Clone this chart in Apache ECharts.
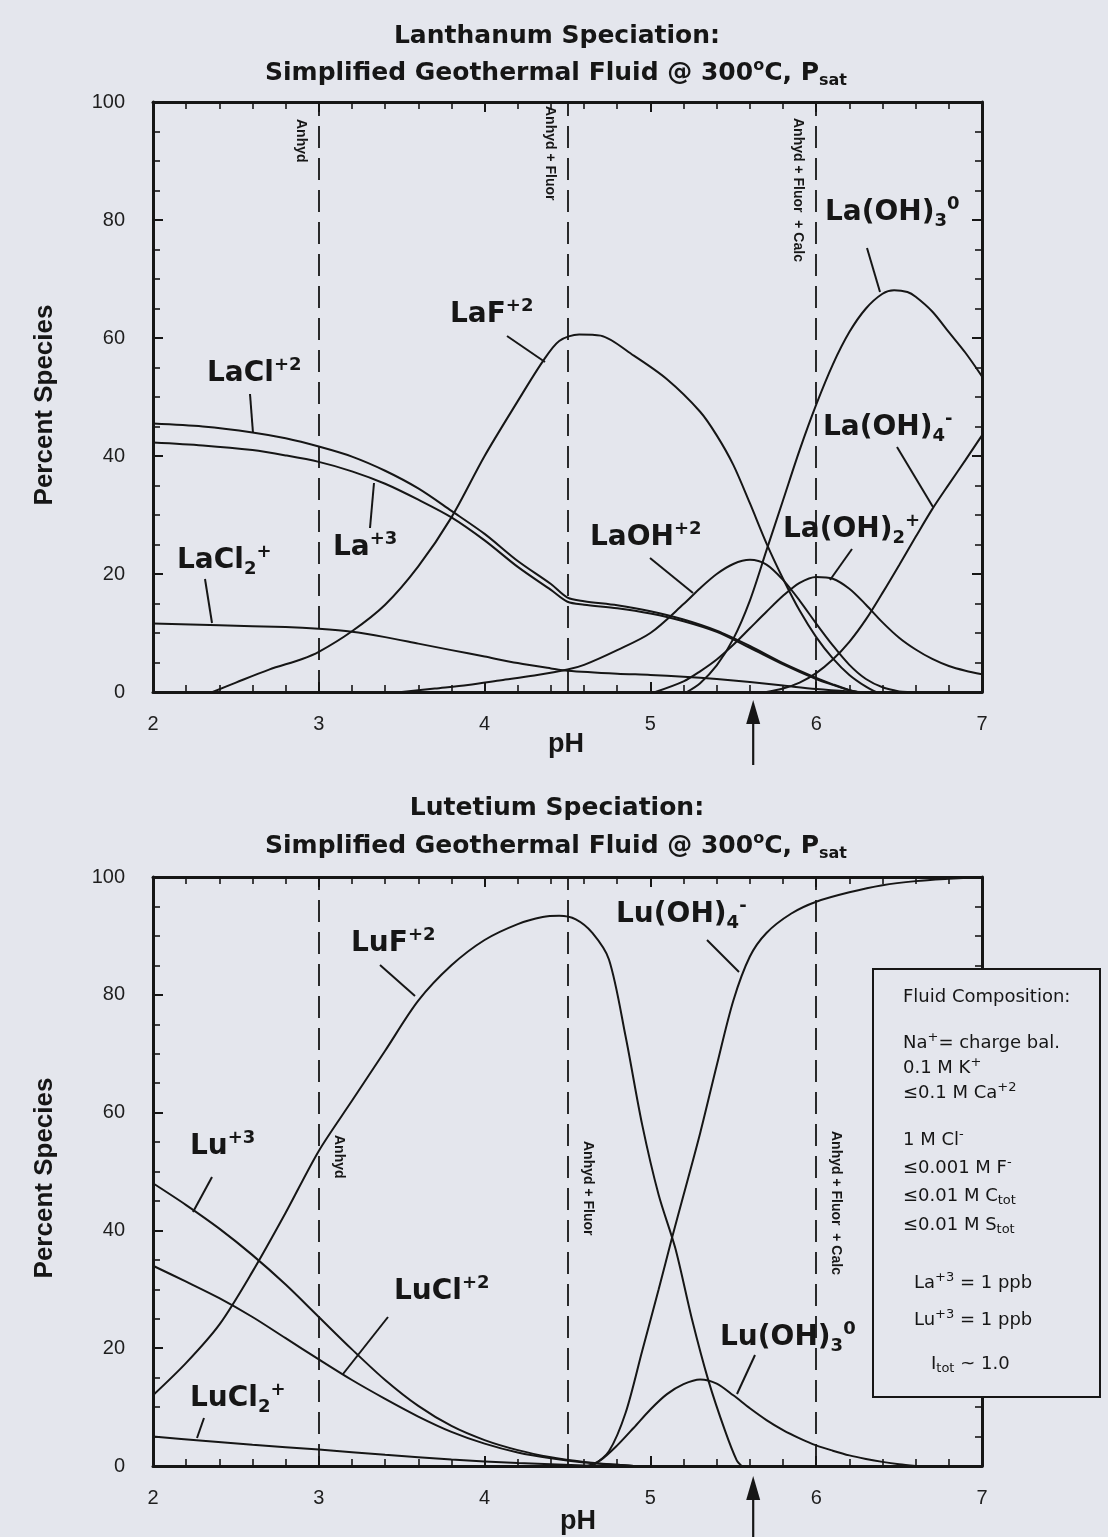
<!DOCTYPE html>
<html><head><meta charset="utf-8">
<script src="https://cdn.jsdelivr.net/npm/echarts/dist/echarts.min.js"></script>
<style>html,body{margin:0;padding:0;background:#e4e6ed}#c{width:1108px;height:1537px}</style>
</head><body><div id="c"></div>
<script>
// ---------------- data ----------------
const pHTickLabels = [2, 3, 4, 5, 6, 7];
const pctTickLabels = [0, 20, 40, 60, 80, 100];
const phaseBoundaries = [3.0, 4.5, 6.0];
const phaseLabels = ['Anhyd', 'Anhyd + Fluor', 'Anhyd + Fluor  + Calc'];
const arrowPH = 5.62;

// Lanthanum speciation  [pH, percent]
const La_LaCl = [[2.0,45.5],[2.3,45.0],[2.6,44.0],[2.8,43.0],[3.0,41.6],[3.2,39.9],[3.4,37.5],[3.6,34.5],[3.8,30.7],[4.0,26.8],[4.2,22.2],[4.4,18.3],[4.5,16.0],[4.6,15.4],[4.8,14.7],[5.0,13.7],[5.2,12.3],[5.4,10.4],[5.6,7.8],[5.8,4.9],[6.0,2.4],[6.1,1.3],[6.2,0.3],[6.25,0]];
const La_La3 = [[2.0,42.3],[2.3,41.8],[2.6,41.0],[2.8,40.1],[3.0,39.0],[3.2,37.4],[3.4,35.3],[3.6,32.6],[3.8,29.6],[4.0,25.7],[4.2,21.2],[4.4,17.3],[4.5,15.3],[4.6,14.8],[4.8,14.2],[5.0,13.3],[5.2,12.0],[5.4,10.2],[5.6,7.5],[5.8,4.7],[6.0,2.2],[6.1,1.2],[6.2,0.3],[6.25,0]];
const La_LaCl2 = [[2.0,11.6],[2.4,11.3],[2.8,11.0],[3.0,10.7],[3.2,10.2],[3.4,9.3],[3.6,8.2],[3.8,7.1],[4.0,6.0],[4.2,4.9],[4.4,4.0],[4.5,3.6],[4.8,3.1],[5.0,2.9],[5.2,2.6],[5.4,2.2],[5.6,1.7],[5.8,1.1],[6.0,0.5],[6.2,0.1],[6.3,0]];
const La_LaF = [[2.36,0],[2.5,1.6],[2.7,3.8],[2.9,5.6],[3.0,6.8],[3.2,10.3],[3.4,14.8],[3.6,21.3],[3.8,29.6],[4.0,40.0],[4.2,49.3],[4.35,56.0],[4.45,59.5],[4.57,60.6],[4.7,60.4],[4.9,57.0],[5.1,53.0],[5.3,47.5],[5.4,43.5],[5.5,38.5],[5.6,32.0],[5.7,25.2],[5.8,19.2],[5.9,13.8],[6.0,9.3],[6.1,5.7],[6.2,2.9],[6.3,0.9],[6.36,0]];
const La_LaOH = [[3.5,0],[3.7,0.6],[3.9,1.2],[4.1,2.0],[4.3,2.8],[4.5,3.8],[4.6,4.6],[4.8,7.1],[5.0,10.0],[5.2,14.9],[5.3,17.6],[5.4,20.0],[5.5,21.7],[5.6,22.4],[5.7,21.6],[5.8,19.0],[5.9,15.5],[6.0,11.6],[6.1,7.9],[6.2,4.6],[6.3,2.2],[6.4,0.8],[6.5,0.1],[6.55,0]];
const La_LaOH2 = [[5.03,0],[5.2,1.8],[5.3,3.5],[5.4,5.5],[5.5,8.0],[5.6,10.8],[5.7,13.6],[5.8,16.3],[5.9,18.5],[6.0,19.5],[6.1,19.2],[6.2,17.5],[6.3,14.8],[6.4,11.8],[6.5,9.2],[6.6,7.2],[6.7,5.6],[6.8,4.4],[6.9,3.6],[7.0,3.0]];
const La_LaOH3 = [[5.22,0],[5.3,1.5],[5.4,4.5],[5.5,9.0],[5.6,15.5],[5.7,24.0],[5.8,32.5],[5.9,41.0],[6.0,48.7],[6.1,55.5],[6.2,61.0],[6.3,65.0],[6.4,67.5],[6.47,68.1],[6.55,67.8],[6.6,67.0],[6.7,64.5],[6.8,61.0],[6.9,57.5],[7.0,53.5]];
const La_LaOH4 = [[5.7,0],[5.8,0.6],[5.9,1.6],[6.0,3.2],[6.1,5.5],[6.2,8.5],[6.3,12.3],[6.4,16.8],[6.5,21.5],[6.6,26.3],[6.7,31.0],[6.8,35.2],[6.9,39.3],[7.0,43.5]];

// Lutetium speciation  [pH, percent]
const Lu_LuF = [[2.0,12.0],[2.2,17.5],[2.4,24.0],[2.6,33.0],[2.8,43.0],[3.0,53.5],[3.2,62.0],[3.4,70.5],[3.6,79.0],[3.8,85.0],[4.0,89.3],[4.2,92.0],[4.35,93.2],[4.45,93.4],[4.55,92.8],[4.65,90.5],[4.75,86.0],[4.85,73.0],[4.95,58.0],[5.05,46.0],[5.15,37.0],[5.25,25.0],[5.35,14.5],[5.45,6.0],[5.52,1.0],[5.55,0]];
const Lu_LuOH4 = [[4.65,0],[4.75,2.5],[4.85,9.0],[4.95,19.5],[5.05,30.0],[5.13,38.7],[5.2,46.0],[5.3,56.5],[5.4,68.0],[5.5,79.0],[5.6,86.5],[5.7,90.5],[5.85,93.8],[6.0,95.8],[6.2,97.4],[6.4,98.6],[6.6,99.3],[6.8,99.7],[7.0,100]];
const Lu_LuOH3 = [[4.62,0],[4.7,1.0],[4.8,3.5],[4.9,6.5],[5.0,9.6],[5.1,12.2],[5.2,13.9],[5.3,14.7],[5.4,14.0],[5.5,12.0],[5.6,9.8],[5.7,7.8],[5.8,6.1],[5.9,4.7],[6.0,3.5],[6.1,2.6],[6.2,1.8],[6.3,1.2],[6.4,0.7],[6.5,0.3],[6.6,0]];
const Lu_Lu3 = [[2.0,48.0],[2.2,44.3],[2.4,40.3],[2.6,35.8],[2.8,30.8],[3.0,25.3],[3.2,19.8],[3.4,14.6],[3.6,10.2],[3.8,6.8],[4.0,4.4],[4.2,2.7],[4.4,1.5],[4.6,0.7],[4.8,0.2],[4.9,0]];
const Lu_LuCl = [[2.0,34.0],[2.2,31.3],[2.4,28.5],[2.6,25.3],[2.8,21.7],[3.0,18.1],[3.2,14.6],[3.4,11.4],[3.6,8.4],[3.8,5.8],[4.0,3.8],[4.2,2.3],[4.4,1.3],[4.6,0.6],[4.8,0.2],[4.9,0]];
const Lu_LuCl2 = [[2.0,5.0],[2.3,4.3],[2.6,3.6],[3.0,2.8],[3.4,1.9],[3.8,1.1],[4.2,0.5],[4.6,0.1],[4.8,0]];

// ---------------- chart ----------------
const INK = '#161616';
const BG = '#e4e6ed';
const FONT = '"Liberation Sans", Arial, Helvetica, sans-serif';
const WIDE = '"DejaVu Sans", Verdana, sans-serif';
const GRIDS = [{left:153, top:102, width:829, height:590}, {left:153, top:877, width:829, height:589}];

const chart = echarts.init(document.getElementById('c'), null, {renderer:'canvas'});

function xAx(g, pos, showLabels) {
  return {type:'value', gridIndex:g, position:pos, min:pHTickLabels[0], max:pHTickLabels[pHTickLabels.length-1], interval:1,
    axisLine:{show:true, onZero:false, lineStyle:{color:INK, width:3}},
    axisTick:{show:true, inside:true, length:10, lineStyle:{color:INK, width:2}},
    minorTick:{show:true, splitNumber:5, length:7, lineStyle:{color:INK, width:1.6}},
    axisLabel:{show:showLabels, margin:22, fontSize:20, color:'#1e1e1e', fontFamily:FONT},
    splitLine:{show:false}, minorSplitLine:{show:false}};
}
function yAx(g, pos, showLabels) {
  return {type:'value', gridIndex:g, position:pos, min:pctTickLabels[0], max:pctTickLabels[pctTickLabels.length-1], interval:20,
    axisLine:{show:true, onZero:false, lineStyle:{color:INK, width:3}},
    axisTick:{show:true, inside:true, length:10, lineStyle:{color:INK, width:2}},
    minorTick:{show:true, splitNumber:4, length:7, lineStyle:{color:INK, width:1.6}},
    axisLabel:{show:showLabels, margin:28, fontSize:20, color:'#1e1e1e', fontFamily:FONT},
    splitLine:{show:false}, minorSplitLine:{show:false}};
}

function curve(data, g) {
  return {type:'line', xAxisIndex:g*2, yAxisIndex:g*2, data:data, showSymbol:false, symbol:'none',
    smooth:0.3, lineStyle:{color:INK, width:2}, silent:true, animation:false, z:3};
}
function boundaries(g) {
  return {type:'line', xAxisIndex:g*2, yAxisIndex:g*2, data:[], silent:true, animation:false,
    markLine:{symbol:'none', silent:true, animation:false, label:{show:false},
      lineStyle:{color:INK, width:1.8, type:[22,10]},
      data: phaseBoundaries.map(v => ({xAxis:v}))}};
}

const laCurves = [La_LaCl, La_La3, La_LaCl2, La_LaF, La_LaOH, La_LaOH2, La_LaOH3, La_LaOH4];
const luCurves = [Lu_LuF, Lu_LuOH4, Lu_LuOH3, Lu_Lu3, Lu_LuCl, Lu_LuCl2];

const series = [boundaries(0), boundaries(1)]
  .concat(laCurves.map(d => curve(d, 0)))
  .concat(luCurves.map(d => curve(d, 1)));

chart.setOption({
  backgroundColor: BG,
  animation:false,
  grid: GRIDS.map(g => Object.assign({containLabel:false, outerBoundsMode:'none', show:false}, g)),
  xAxis: [xAx(0,'bottom',true), xAx(0,'top',false), xAx(1,'bottom',true), xAx(1,'top',false)],
  yAxis: [yAx(0,'left',true), yAx(0,'right',false), yAx(1,'left',true), yAx(1,'right',false)],
  series: series
});

// ---------------- annotations ----------------
function richSet(size, weight, family, supScale) {
  const s = Math.round(size*(supScale||0.64));
  return {
    n:{fontSize:size, fontFamily:family, fontWeight:weight, fill:INK, lineHeight:Math.round(size*1.25)},
    sup:{fontSize:s, fontFamily:family, fontWeight:weight, fill:INK, lineHeight:s, verticalAlign:'top'},
    sub:{fontSize:s, fontFamily:family, fontWeight:weight, fill:INK, lineHeight:s, verticalAlign:'bottom'}
  };
}
function rtext(str, x, y, size, weight, align, family, extra, supScale) {
  return Object.assign({type:'text', x:x, y:y, z:100, silent:true,
    style:{text:str, rich:richSet(size, weight, family||FONT, supScale), textAlign:align||'left', textVerticalAlign:'middle', fill:INK}}, extra||{});
}
function seg(x1,y1,x2,y2,w) {
  return {type:'line', z:100, silent:true, shape:{x1:x1,y1:y1,x2:x2,y2:y2}, style:{stroke:INK, lineWidth:w||2}};
}

const speciesLabels = [
  // top (La)
  {t:'{n|LaCl}{sup|+2}', x:207, y:374, p:[250,394,253,433]},
  {t:'{n|La}{sup|+3}', x:333, y:548, p:[370,528,374,483]},
  {t:'{n|LaCl}{sub|2}{sup|+}', x:177, y:561, p:[205,579,212,623]},
  {t:'{n|LaF}{sup|+2}', x:450, y:315, p:[507,336,545,362]},
  {t:'{n|LaOH}{sup|+2}', x:590, y:538, p:[650,558,693,593]},
  {t:'{n|La(OH)}{sub|2}{sup|+}', x:783, y:530, p:[852,549,830,580]},
  {t:'{n|La(OH)}{sub|4}{sup|-}', x:823, y:428, p:[897,447,933,507]},
  {t:'{n|La(OH)}{sub|3}{sup|0}', x:825, y:213, p:[867,248,880,292]},
  // bottom (Lu)
  {t:'{n|LuF}{sup|+2}', x:351, y:944, p:[380,965,415,996]},
  {t:'{n|Lu(OH)}{sub|4}{sup|-}', x:616, y:915, p:[707,940,739,972]},
  {t:'{n|Lu}{sup|+3}', x:190, y:1147, p:[212,1177,193,1212]},
  {t:'{n|LuCl}{sup|+2}', x:394, y:1292, p:[388,1317,343,1374]},
  {t:'{n|LuCl}{sub|2}{sup|+}', x:190, y:1399, p:[204,1418,197,1438]},
  {t:'{n|Lu(OH)}{sub|3}{sup|0}', x:720, y:1338, p:[755,1355,737,1394]}
];

const gfx = [];
// titles
[[36,'{n|Lanthanum Speciation:}'],[808,'{n|Lutetium Speciation:}']].forEach(([y,t]) => gfx.push(rtext(t, 557, y, 25, 'bold', 'center', WIDE)));
[73, 846].forEach(y => gfx.push(rtext('{n|Simplified Geothermal Fluid @ 300}{sup|o}{n|C, P}{sub|sat}', 556, y, 25, 'bold', 'center', WIDE)));
// axis titles
[405, 1178].forEach(y => gfx.push(rtext('{n|Percent Species}', 45, y, 26, 'bold', 'center', FONT, {rotation:Math.PI/2})));
gfx.push(rtext('{n|pH}', 566, 745, 27, 'bold', 'center'));
gfx.push(rtext('{n|pH}', 578, 1522, 27, 'bold', 'center'));
// species labels
speciesLabels.forEach(L => {
  gfx.push(rtext(L.t, L.x, L.y, 28, 'bold', 'left', WIDE));
  gfx.push(seg(L.p[0], L.p[1], L.p[2], L.p[3], 2));
});
// phase-boundary labels (rotated, reading downward)
phaseBoundaries.forEach((v, i) => {
  const pTop = chart.convertToPixel({xAxisIndex:0}, v);
  const pBot = chart.convertToPixel({xAxisIndex:2}, v);
  const topY = [119, 106, 118][i], botY = [1135, 1141, 1131][i];
  gfx.push(rtext('{n|' + phaseLabels[i] + '}', pTop - 18, topY, 14, 'bold', 'left', FONT, {rotation:-Math.PI/2}));
  gfx.push(rtext('{n|' + phaseLabels[i] + '}', pBot + 20, botY, 14, 'bold', 'left', FONT, {rotation:-Math.PI/2}));
});
// arrows under the pH axis
[[0, 700, 765], [2, 1476, 1537]].forEach(([ax, tip, tail]) => {
  const x = chart.convertToPixel({xAxisIndex:ax}, arrowPH);
  gfx.push(seg(x, tip + 18, x, tail, 2.2));
  gfx.push({type:'polygon', z:100, silent:true, shape:{points:[[x, tip],[x-7, tip+24],[x+7, tip+24]]}, style:{fill:INK}});
});
// fluid composition box
gfx.push({type:'rect', z:90, silent:true, shape:{x:873, y:969, width:227, height:428}, style:{fill:BG, stroke:INK, lineWidth:2}});
const boxLines = [
  [903, 997, '{n|Fluid Composition:}'],
  [903, 1043, '{n|Na}{sup|+}{n|= charge bal.}'],
  [903, 1068, '{n|0.1 M K}{sup|+}'],
  [903, 1093, '{n|≤0.1 M Ca}{sup|+2}'],
  [903, 1140, '{n|1 M Cl}{sup|-}'],
  [903, 1168, '{n|≤0.001 M F}{sup|-}'],
  [903, 1196, '{n|≤0.01 M C}{sub|tot}'],
  [903, 1225, '{n|≤0.01 M S}{sub|tot}'],
  [914, 1283, '{n|La}{sup|+3}{n| = 1 ppb}'],
  [914, 1320, '{n|Lu}{sup|+3}{n| = 1 ppb}'],
  [931, 1364, '{n|I}{sub|tot}{n| ~ 1.0}']
];
boxLines.forEach(([x,y,t]) => gfx.push(rtext(t, x, y, 18, 'normal', 'left', WIDE, null, 0.72)));

chart.setOption({graphic: gfx});
</script></body></html>
